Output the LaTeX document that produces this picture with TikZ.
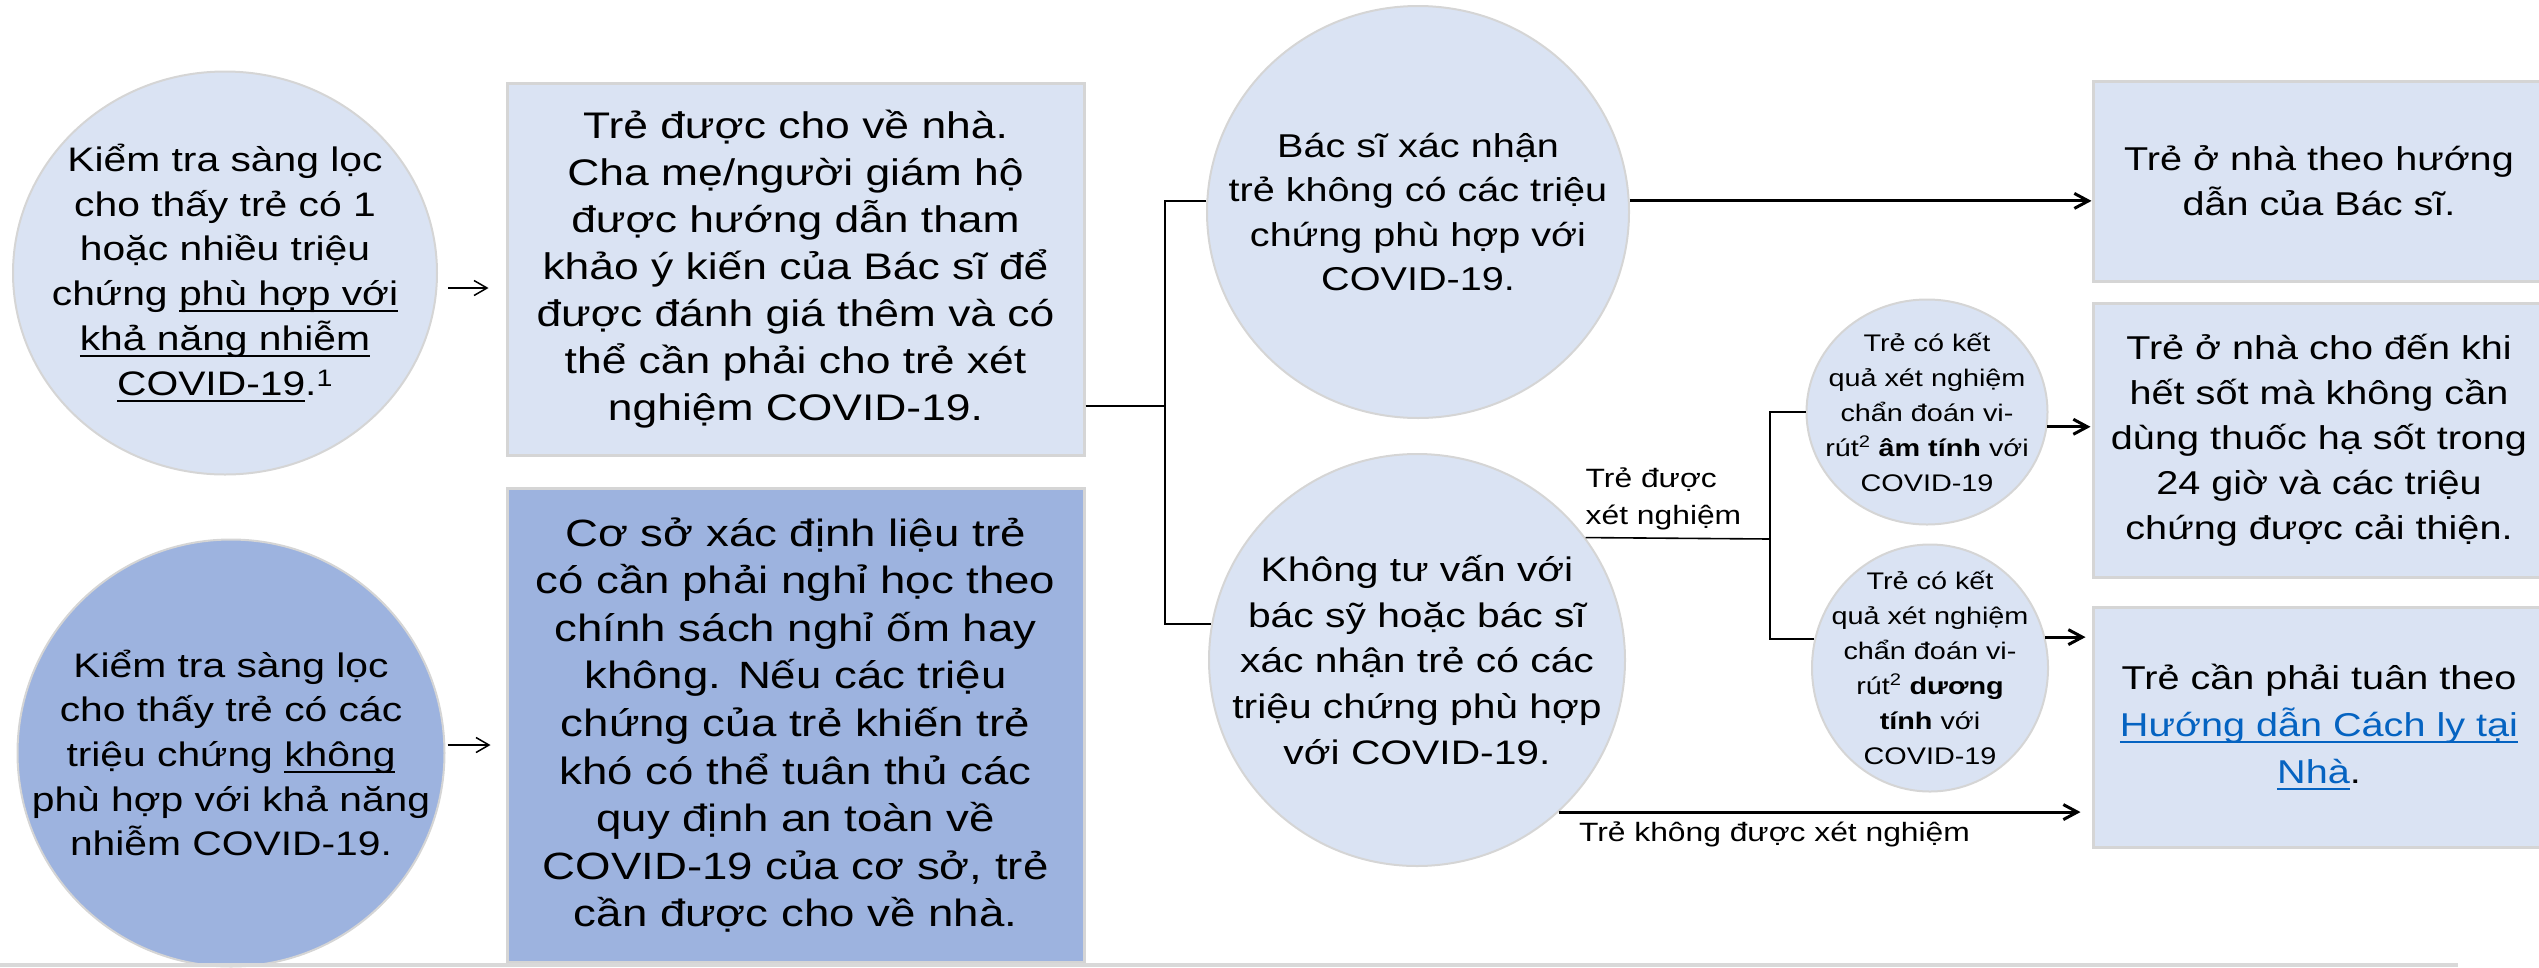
\documentclass[tikz,border=0pt]{standalone}
\usepackage{fontspec}
\setmainfont{Liberation Sans}[FakeStretch=1.2]
\usetikzlibrary{arrows.meta,shapes.geometric}

\definecolor{paleblue}{HTML}{DAE3F3}
\definecolor{deepblue}{HTML}{9DB3DF}
\definecolor{edgegray}{HTML}{D5D5D5}
\definecolor{linkblue}{HTML}{0563C1}
\definecolor{rulegray}{HTML}{D9D9D9}

\newcommand{\setfs}[2]{\fontsize{#1}{#2}\selectfont}
\newsavebox{\ulinebox}
\newcommand{\ulx}[1]{\sbox{\ulinebox}{#1}\rlap{\rule[-0.2em]{\wd\ulinebox}{0.06em}}\usebox{\ulinebox}}
\newcommand{\ulink}[1]{{\color{linkblue}\ulx{#1}}}

\begin{document}
\begin{tikzpicture}[x=1pt, y=-1pt,
    bubble/.style={ellipse, draw=edgegray, line width=2pt, fill=paleblue, inner sep=0pt},
    panel/.style={rectangle, draw=edgegray, line width=3pt, fill=paleblue, inner sep=0pt},
    words/.style={align=center, inner sep=0pt},
    lbl/.style={inner sep=0pt, font=\setfs{26.5}{37}},
    thinarr/.style={-{Straight Barb[length=13pt, width=15pt]}, line width=1.5pt},
    arr/.style={-{Straight Barb[length=14pt, width=15pt]}, line width=3pt},
    conn/.style={line width=1.6pt}]
    \useasboundingbox (0,0) rectangle (2539,967);
    % Place nodes
    \node[bubble, minimum width=424, minimum height=403] (screenPos) at (225,273) {};
    \node[bubble, fill=deepblue, minimum width=427, minimum height=427] (screenNeg) at (231,753) {};
    \node[panel, minimum width=577, minimum height=372] (sentHome) at (795.5,269) {};
    \node[panel, fill=deepblue, minimum width=577, minimum height=474] (schoolDecides) at (795.5,725) {};
    \node[bubble, minimum width=422, minimum height=412] (docNo) at (1418,212) {};
    \node[bubble, minimum width=416, minimum height=412] (noConsult) at (1417,660) {};
    \node[bubble, minimum width=241, minimum height=225] (testNeg) at (1927,412) {};
    \node[bubble, minimum width=236, minimum height=247] (testPos) at (1930,668) {};
    \node[panel, minimum width=452, minimum height=200] (homeDoc) at (2319,181) {};
    \node[panel, minimum width=452, minimum height=274] (homeFever) at (2319,440) {};
    \node[panel, minimum width=452, minimum height=240] (isolate) at (2319,727) {};
    % Texts
    \node[words, font=\setfs{34}{44.7}] (screenPosText) at (screenPos) {Kiểm tra sàng lọc\\cho thấy trẻ có 1\\hoặc nhiều triệu\\chứng \ulx{phù hợp với}\\\ulx{khả năng nhiễm}\\\ulx{COVID-19}.\textsuperscript{1}};
    \node[words, font=\setfs{34}{44.7}] (screenNegText) at (screenNeg) {Kiểm tra sàng lọc\\cho thấy trẻ có các\\triệu chứng \ulx{không}\\phù hợp với khả năng\\nhiễm COVID-19.};
    \node[words, font=\setfs{37}{47}] (sentHomeText) at (sentHome) {Trẻ được cho về nhà.\\Cha mẹ/người giám hộ\\được hướng dẫn tham\\khảo ý kiến của Bác sĩ để\\được đánh giá thêm và có\\thể cần phải cho trẻ xét\\nghiệm COVID-19.};
    \node[words, font=\setfs{38}{47.6}] (schoolDecidesText) at (schoolDecides) {Cơ sở xác định liệu trẻ\\có cần phải nghỉ học theo\\chính sách nghỉ ốm hay\\không. Nếu các triệu\\chứng của trẻ khiến trẻ\\khó có thể tuân thủ các\\quy định an toàn về\\COVID-19 của cơ sở, trẻ\\cần được cho về nhà.};
    \node[words, font=\setfs{33}{44.5}] (docNoText) at (docNo) {Bác sĩ xác nhận\\trẻ không có các triệu\\chứng phù hợp với\\COVID-19.};
    \node[words, font=\setfs{34}{45.7}] (noConsultText) at (noConsult) {Không tư vấn với\\bác sỹ hoặc bác sĩ\\xác nhận trẻ có các\\triệu chứng phù hợp\\với COVID-19.};
    \node[words, font=\setfs{24}{35}] (testNegText) at (testNeg) {Trẻ có kết\\quả xét nghiệm\\chẩn đoán vi-\\rút\textsuperscript{2} \textbf{âm tính} với\\COVID-19};
    \node[words, font=\setfs{24}{35}] (testPosText) at (testPos) {Trẻ có kết\\quả xét nghiệm\\chẩn đoán vi-\\rút\textsuperscript{2} \textbf{dương}\\\textbf{tính} với\\COVID-19};
    \node[words, font=\setfs{33}{45}] (homeDocText) at (homeDoc) {Trẻ ở nhà theo hướng\\dẫn của Bác sĩ.};
    \node[words, font=\setfs{33}{45}] (homeFeverText) at (homeFever) {Trẻ ở nhà cho đến khi\\hết sốt mà không cần\\dùng thuốc hạ sốt trong\\24 giờ và các triệu\\chứng được cải thiện.};
    \node[words, font=\setfs{33}{47}] (isolateText) at (isolate) {Trẻ cần phải tuân theo\\\ulink{Hướng dẫn Cách ly tại}\\\ulink{Nhà}.};
    \coordinate (split1) at (1165,406);
    \coordinate (split2) at (1770,539);
    % Create edges
    \draw[thinarr, shorten <=10pt, shorten >=17pt] ([yshift=-15pt]screenPos.east) -- ([yshift=-15pt]screenPos.east -| sentHome.west);
    \draw[thinarr, shorten <=2pt, shorten >=15pt] ([yshift=8pt]screenNeg.east) -- ([yshift=8pt]screenNeg.east -| schoolDecides.west);
    \draw[conn] ([yshift=-137pt]sentHome.east) -- (split1);
    \draw[conn] (docNo.177) -| (split1) |- (noConsult.170);
    \draw[arr] (docNo.3) -- (docNo.3 -| homeDoc.west);
    % Tested or not
    \draw[conn] (noConsult.36) -- (split2);
    \draw[conn] (testNeg.west) -| (split2) |- (testPos.166);
    \node[lbl, anchor=south west, align=left] (testedLbl) at ([yshift=7pt]noConsult.36) {Trẻ được\\xét nghiệm};
    \draw[arr, shorten >=1pt] (testNeg.-7) -- (testNeg.-7 -| homeFever.west);
    \draw[arr, shorten >=6pt] (testPos.15) -- (testPos.15 -| isolate.west);
    \draw[arr, shorten >=11pt] (noConsult.-47) -- (noConsult.-47 -| isolate.west);
    \node[lbl, anchor=north west] (untestedLbl) at ([xshift=20pt,yshift=-9pt]noConsult.-47) {Trẻ không được xét nghiệm};
    % Page rule
    \draw[rulegray, line width=4pt] (0,965) -- (2458,965);
\end{tikzpicture}
\end{document}
